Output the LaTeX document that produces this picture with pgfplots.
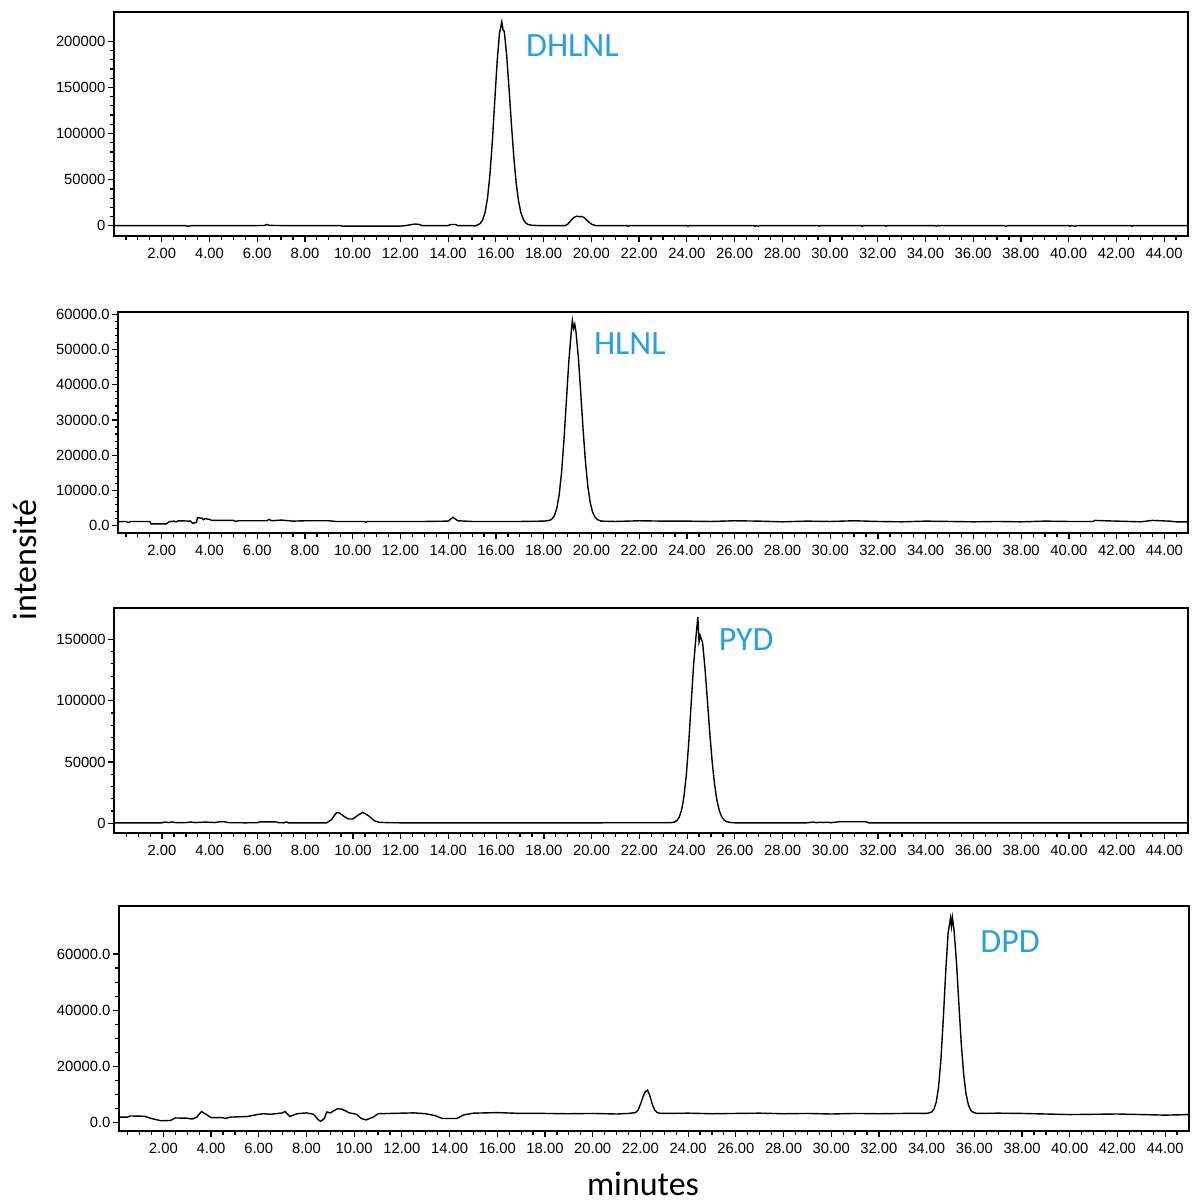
\documentclass[border=0pt]{standalone}
\usepackage{fontspec}
\setmainfont{Carlito}
\newfontfamily\tickfont{Liberation Sans}
\usepackage{pgfplots}
\pgfplotsset{compat=1.18}
\definecolor{lblue}{RGB}{41,160,220}
\tikzset{
  lbl/.style={font=\fontsize{17}{20}\selectfont, text=lblue, anchor=west, inner sep=0pt},
  trace/.style={black, line width=0.7pt},
}
\pgfplotsset{
  chrom/.style={
    scale only axis, anchor=north west,
    xmax=45,
    axis line style={line width=0.9pt},
    every tick/.style={black, line width=0.6pt},
    major tick length=3pt, minor tick length=1.8pt,
    tick align=outside, xtick pos=lower, ytick pos=left,
    xtick={2,4,...,44},
    minor xtick={0.5,1,...,44.5},
    scaled y ticks=false, scaled x ticks=false,
    /pgf/number format/assume math mode=true,
    tick label style={font=\tickfont\fontsize{7.4}{8}\selectfont, inner sep=0.5pt},
    xticklabel style={/pgf/number format/fixed, /pgf/number format/fixed zerofill, /pgf/number format/precision=2},
    xticklabel shift=2.2pt,
    yticklabel shift=0.6pt,
    clip=true,
  },
}
\begin{document}
\begin{tikzpicture}
\useasboundingbox (0,0) rectangle (595.5pt,-601pt);

% Panel 1 DHLNL
\begin{axis}[chrom, at={(57pt,-5.85pt)}, width=537pt, height=112.15pt,
  xmin=0, ymin=-11000, ymax=232000,
  ytick={0,50000,100000,150000,200000}, minor y tick num=4,
  yticklabel style={/pgf/number format/fixed, /pgf/number format/precision=0, /pgf/number format/1000 sep={}}]
\addplot[trace, mark=none] coordinates {(0,300)(0.5,300)(1,250)(1.5,300)(2,300)(2.5,300)(3,300)(3.05,-400)(3.15,-300)(3.25,300)(4,300)(5,300)(6,300)(6.3,400)(6.4,1500)(6.5,500)(7,300)(8,300)(9,300)(9.5,300)(9.55,-300)(10,-300)(11,-300)(12,-300)(12.2,200)(12.5,1500)(12.6,2000)(12.8,1500)(12.9,300)(13.5,300)(14.0,300)(14.1,1500)(14.3,1500)(14.4,300)(15.0,300)(15.1,-200)(15.2,600)
(15.25,1160)(15.35,2740)(15.45,6570)(15.55,14750)(15.65,30000)(15.75,55080)(15.85,90720)(15.95,133840)(16.05,176520)(16.15,208420)(16.25,221000)(16.3,212000)(16.35,211060)(16.45,185320)(16.55,149460)(16.65,110520)(16.75,74880)(16.85,46720)(16.95,26700)(17.05,14120)(17.15,6920)(17.25,3200)(17.35,1470)(17.5,600)(17.8,300)
(18.5,300)(18.9,300)(19.0,1500)(19.1,4500)(19.2,7500)(19.3,9500)(19.4,10500)(19.5,9800)(19.6,10200)(19.7,8800)(19.8,6500)(19.9,4000)(20.0,2000)(20.1,800)(20.2,300)
(21,300)(21.5,300)(21.55,-600)(21.6,300)(24,300)(24.05,-500)(24.1,300)(26.8,300)(26.85,-500)(26.9,300)(27.0,-500)(27.05,300)(29.5,300)(29.55,-400)(29.6,300)(31.3,300)(31.35,-500)(31.4,300)(32.3,300)(32.35,-500)(32.4,300)(34.4,300)(34.45,-400)(34.5,300)(37.3,300)(37.35,-500)(37.4,-300)(37.45,300)(40.0,300)(40.05,-400)(40.1,300)(40.3,-400)(40.35,300)(42.6,300)(42.65,-500)(42.7,300)(45,300)};
\node[lbl] at (axis cs:17.25,195700) {DHLNL};
\end{axis}

% Panel 2 HLNL
\begin{axis}[chrom, at={(59.15pt,-155.85pt)}, width=535pt, height=110.65pt,
  xmin=0.18, ymin=-2070, ymax=60740,
  ytick={0,10000,...,60000}, minor y tick num=4,
  yticklabel style={/pgf/number format/fixed, /pgf/number format/fixed zerofill, /pgf/number format/precision=1, /pgf/number format/1000 sep={}}]
\addplot[trace, mark=none] coordinates {(0.15,1150)(0.5,1200)(0.6,900)(0.7,1200)(1.5,1200)(1.55,500)(2.2,500)(2.3,1100)(2.5,1300)(2.6,1100)(2.7,1400)(3.2,1300)(3.3,700)(3.45,900)(3.5,2300)(3.7,2100)(3.75,1700)(3.8,2000)(4.0,1800)(4.1,1500)(5.0,1500)(5.1,1200)(5.2,1400)(6.4,1400)(6.5,1800)(6.6,1400)(7.0,1600)(7.5,1300)(8.0,1400)(9.0,1400)(9.3,1200)(10.5,1200)(10.55,900)(10.6,1200)(12,1200)(13,1200)(14,1300)(14.2,2400)(14.4,1400)(15,1200)(16,1200)(17,1200)(18,1300)
(18.25,1520)(18.35,1930)(18.45,2910)(18.55,5010)(18.65,8930)(18.75,15370)(18.85,24520)(18.95,35600)(19.05,46560)(19.15,54750)(19.2,58200)(19.25,56000)(19.3,57200)(19.35,55090)(19.45,47800)(19.55,37690)(19.65,27180)(19.75,17970)(19.85,11020)(19.95,6460)(20.05,3780)(20.15,2380)(20.25,1730)(20.4,1300)
(21,1200)(22,1400)(23,1300)(24,1300)(25,1200)(26,1400)(27,1300)(28,1100)(29,1300)(30,1200)(31,1400)(32,1200)(33,1100)(34,1300)(35,1200)(36,1100)(37,1200)(38,1100)(39,1300)(40,1200)(41,1200)(41.1,1500)(41.5,1400)(42.5,1200)(43,1100)(43.5,1500)(44.2,1300)(44.5,1100)(45,1100)};
\node[lbl] at (axis cs:20.09,51570) {HLNL};
\end{axis}

% Panel 3 PYD
\begin{axis}[chrom, at={(57.15pt,-304.15pt)}, width=537pt, height=112.5pt,
  xmin=0, ymin=-8150, ymax=175270,
  ytick={0,50000,100000,150000}, minor y tick num=4,
  yticklabel style={/pgf/number format/fixed, /pgf/number format/precision=0, /pgf/number format/1000 sep={}}]
\addplot[trace, mark=none] coordinates {(0,400)(2.0,400)(2.1,1000)(2.3,600)(2.4,1100)(2.6,500)(3.0,600)(3.2,1000)(3.4,600)(3.8,1000)(4.2,600)(4.4,1200)(4.6,1300)(4.8,500)(5.5,400)(6.0,500)(6.1,1200)(6.8,1100)(6.9,500)(7.1,400)(7.2,1100)(7.3,400)(8.9,400)(9.1,3000)(9.3,8500)(9.4,8800)(9.6,6000)(9.8,3500)(10.0,3500)(10.2,6500)(10.4,8800)(10.5,8000)(10.7,5500)(10.9,2000)(11.1,800)(11.5,500)(12,400)(16,400)(20,400)(23.3,500)
(23.47,1020)(23.57,2180)(23.67,4960)(23.77,10910)(23.87,22000)(23.97,40240)(24.07,66160)(24.17,97520)(24.27,128560)(24.37,151760)(24.45,168000)(24.5,148000)(24.55,153000)(24.65,147100)(24.75,126160)(24.85,100080)(24.95,73680)(25.05,50160)(25.15,31760)(25.25,18640)(25.35,10260)(25.45,5310)(25.55,2670)(25.65,1380)(25.8,700)(26.0,400)
(27,400)(28,400)(29.0,400)(29.3,1000)(29.4,500)(29.6,900)(29.7,600)(29.9,900)(30.0,500)(30.4,1300)(31.5,1300)(31.6,400)(35,400)(45,400)};
\node[lbl] at (axis cs:25.31,149430) {PYD};
\end{axis}

% Panel 4 DPD
\begin{axis}[chrom, at={(59.5pt,-453pt)}, width=535pt, height=112.5pt,
  xmin=0.14, ymin=-2950, ymax=77070,
  ytick={0,20000,40000,60000}, minor y tick num=3,
  yticklabel style={/pgf/number format/fixed, /pgf/number format/fixed zerofill, /pgf/number format/precision=1, /pgf/number format/1000 sep={}}]
\addplot[trace, mark=none] coordinates {(0.15,2000)(0.5,2000)(0.6,2400)(1.2,2300)(1.5,1500)(1.9,700)(2.3,800)(2.5,1700)(3.0,1600)(3.2,1300)(3.4,2000)(3.6,4000)(3.75,3200)(4.0,1800)(4.5,1800)(4.6,1500)(4.8,2000)(5.5,2200)(6.0,3000)(6.2,3200)(6.5,3000)(7.0,3500)(7.1,4000)(7.3,2200)(7.6,3200)(8.0,3500)(8.3,3000)(8.5,1000)(8.6,500)(8.75,1500)(8.85,3800)(9.0,3500)(9.3,5000)(9.5,4800)(9.8,3500)(10.1,3000)(10.3,1500)(10.5,1000)(10.8,2000)(11.0,3200)(12.0,3400)(12.5,3500)(13.0,3200)(13.4,2500)(13.7,1500)(14.3,1500)(14.6,2800)(15.0,3400)(16.0,3600)(17.0,3300)(18.0,3300)(19.0,3200)(20.0,3300)(21.0,3100)(21.5,3300)
(21.8,3600)(21.9,4500)(22.0,6500)(22.1,9000)(22.2,11000)(22.3,11600)(22.4,9500)(22.5,6500)(22.6,4500)(22.7,3600)(22.8,3400)
(23.0,3300)(24,3400)(25,3200)(26,3300)(27,3400)(28,3200)(29,3300)(30,3100)(31,3300)(32,3200)(33,3300)(34.0,3300)
(34.2,3720)(34.3,4680)(34.4,7200)(34.5,12680)(34.6,22620)(34.7,37150)(34.8,53760)(34.9,67450)(34.95,70000)(35.0,72800)(35.04,69800)(35.08,73000)(35.15,68490)(35.25,57160)(35.35,42430)(35.45,28320)(35.55,17410)(35.65,10300)(35.75,6350)(35.85,4475)(35.95,3700)(36.1,3300)
(37,3400)(38.0,3300)(39,3100)(40,2900)(41,3000)(42,3100)(43,2900)(44,2700)(45,2900)};
\node[lbl] at (axis cs:36.24,64370) {DPD};
\end{axis}

\node[rotate=90, font=\fontsize{17}{20}\selectfont, inner sep=0pt] at (12.5pt,-280pt) {intensité};
\node[font=\fontsize{17}{20}\selectfont, inner sep=0pt] at (321.5pt,-592pt) {minutes};
\end{tikzpicture}
\end{document}
